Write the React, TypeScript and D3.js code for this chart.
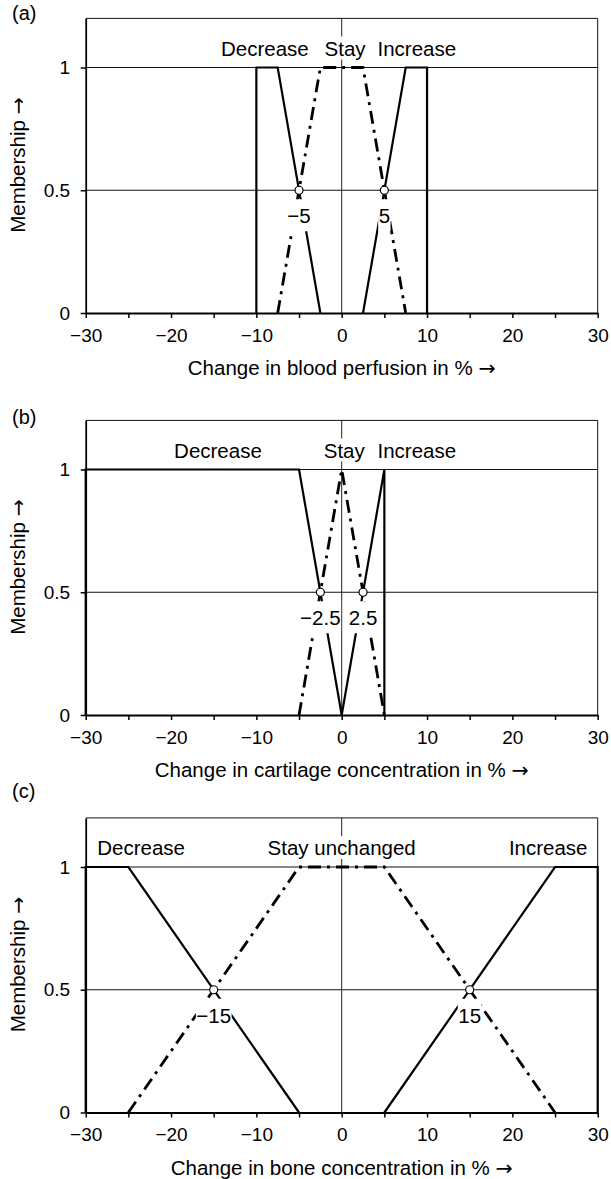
import { useEffect, useRef } from "react";
import * as d3 from "d3";

// axis ticks
const xTicks = [-30, -20, -10, 0, 10, 20, 30];
const xMinorTicks = [-25, -15, -5, 5, 15, 25];
const yTicks = [0, 0.5, 1];
const yTickLabels = ["0", "0.5", "1"];

// (a) blood perfusion
const aTitle = "Change in blood perfusion in %";
const aCategories = ["Decrease", "Stay", "Increase"];
const aDecrease: [number, number][] = [[-10, 0], [-10, 1], [-7.5, 1], [-2.5, 0]];
const aStay: [number, number][] = [[-7.5, 0], [-2.5, 1], [2.5, 1], [7.5, 0]];
const aIncrease: [number, number][] = [[2.5, 0], [7.5, 1], [10, 1], [10, 0]];
const aCross = [-5, 5];
const aCrossLabels = ["\u22125", "5"];

// (b) cartilage concentration
const bTitle = "Change in cartilage concentration in %";
const bCategories = ["Decrease", "Stay", "Increase"];
const bDecrease: [number, number][] = [[-30, 0], [-30, 1], [-5, 1], [0, 0]];
const bStay: [number, number][] = [[-5, 0], [0, 1], [5, 0]];
const bIncrease: [number, number][] = [[0, 0], [5, 1], [5, 0]];
const bCross = [-2.5, 2.5];
const bCrossLabels = ["\u22122.5", "2.5"];

// (c) bone concentration
const cTitle = "Change in bone concentration in %";
const cCategories = ["Decrease", "Stay unchanged", "Increase"];
const cDecrease: [number, number][] = [[-30, 0], [-30, 1], [-25, 1], [-5, 0]];
const cStay: [number, number][] = [[-25, 0], [-5, 1], [5, 1], [25, 0]];
const cIncrease: [number, number][] = [[5, 0], [25, 1], [30, 1], [30, 0]];
const cCross = [-15, 15];
const cCrossLabels = ["\u221215", "15"];

const panels = [
  { tag: "(a)", title: aTitle, cats: aCategories, dec: aDecrease, stay: aStay, inc: aIncrease, cross: aCross, crossLabels: aCrossLabels },
  { tag: "(b)", title: bTitle, cats: bCategories, dec: bDecrease, stay: bStay, inc: bIncrease, cross: bCross, crossLabels: bCrossLabels },
  { tag: "(c)", title: cTitle, cats: cCategories, dec: cDecrease, stay: cStay, inc: cIncrease, cross: cCross, crossLabels: cCrossLabels },
];

// layout
const W = 611;
const H = 1179;
const zeroY = [313, 715, 1112.5];
const tagY = [20, 424, 798];
const catX = [
  [-9, 0.4, 8.8],
  [-14.5, 0.3, 8.8],
  [-23.5, 0, 24.2],
];
const unit = 245.5;
const FONT = "'Liberation Sans', Arial, Helvetica, sans-serif";
const ARROW_FONT = "'DejaVu Sans', sans-serif";

function App() {
  const svgRef = useRef<SVGSVGElement>(null);

  useEffect(() => {
    if (!svgRef.current) return;
    const svg = d3.select(svgRef.current);
    svg.selectAll("*").remove();
    svg.append("rect").attr("width", W).attr("height", H).attr("fill", "#fff");

    const x = d3.scaleLinear().domain([-30, 30]).range([85.7, 597.7]);

    panels.forEach((p, i) => {
      const y0 = zeroY[i];
      const y = d3.scaleLinear().domain([0, 1.2]).range([y0, y0 - 1.2 * unit]);
      const g = svg.append("g").attr("font-family", FONT).attr("fill", "#000");

      // grid
      g.append("line")
        .attr("x1", x(0)).attr("x2", x(0))
        .attr("y1", y(0)).attr("y2", y(1.2))
        .attr("stroke", "#222").attr("stroke-width", 1);
      [0.5, 1].forEach((v) => {
        g.append("line")
          .attr("x1", x(-30)).attr("x2", x(30))
          .attr("y1", y(v)).attr("y2", y(v))
          .attr("stroke", "#111").attr("stroke-width", 1);
      });
      // frame top / right
      g.append("path")
        .attr("d", `M${x(-30)},${y(1.2)}H${x(30)}V${y(0)}`)
        .attr("fill", "none").attr("stroke", "#111").attr("stroke-width", 1);

      // x axis
      const xa = g.append("g").attr("transform", `translate(0,${y0})`)
        .call(
          d3.axisBottom(x)
            .tickValues([...xTicks, ...xMinorTicks])
            .tickSize(5)
            .tickSizeOuter(0)
            .tickPadding(10.5)
            .tickFormat((d) => (xTicks.includes(+d) ? String(d).replace("-", "\u2212") : ""))
        );
      xa.select(".domain").attr("stroke-width", 2);
      xa.selectAll(".tick line").attr("stroke-width", 1.5);
      xa.selectAll("text").attr("font-size", 19).attr("font-family", FONT);

      // y axis
      const ya = g.append("g").attr("transform", `translate(${x(-30)},0)`)
        .call(
          d3.axisLeft(y)
            .tickValues(yTicks)
            .tickSize(5)
            .tickSizeOuter(0)
            .tickPadding(10.5)
            .tickFormat((d, k) => yTickLabels[k])
        );
      ya.select(".domain").attr("stroke-width", 1.8);
      ya.selectAll(".tick line").attr("stroke-width", 1.5);
      ya.selectAll("text").attr("font-size", 19).attr("font-family", FONT);

      // curves
      const line = d3.line<[number, number]>().x((d) => x(d[0])).y((d) => y(d[1]));
      [p.dec, p.inc].forEach((s) => {
        g.append("path").attr("d", line(s)).attr("fill", "none")
          .attr("stroke", "#000").attr("stroke-width", 2.2).attr("stroke-linejoin", "miter");
      });
      g.append("path").attr("d", line(p.stay)).attr("fill", "none")
        .attr("stroke", "#000").attr("stroke-width", 2.8)
        .attr("stroke-dasharray", "13,6,3,6");

      // labels with white background
      const boxed = (tx: number, ty: number, txt: string, size: number, padT: number, padB: number, padX: number) => {
        const bg = g.append("rect").attr("fill", "#fff");
        const t = g.append("text").attr("x", tx).attr("y", ty)
          .attr("text-anchor", "middle").attr("font-size", size).text(txt);
        const bb = (t.node() as SVGTextElement).getBBox();
        bg.attr("x", bb.x - padX).attr("y", bb.y - padT)
          .attr("width", bb.width + 2 * padX).attr("height", bb.height + padT + padB);
      };

      p.cats.forEach((c, k) => boxed(x(catX[i][k]), y(1) - 12, c, 20.5, 0, 0, 1));
      p.cross.forEach((c, k) => boxed(x(c), y(0.5) + 33, p.crossLabels[k], 20.5, 5, 4, 0.5));

      // crossing markers
      g.selectAll("circle.cross").data(p.cross).join("circle")
        .attr("class", "cross")
        .attr("cx", (d) => x(d)).attr("cy", y(0.5)).attr("r", 4)
        .attr("fill", "#fff").attr("stroke", "#000").attr("stroke-width", 1.2);

      // titles
      const t = g.append("text").attr("x", x(0)).attr("y", y0 + 62)
        .attr("text-anchor", "middle").attr("font-size", 20.5);
      t.append("tspan").text(p.title + " ");
      t.append("tspan").attr("font-family", ARROW_FONT).text("\u2192");

      const m = g.append("text")
        .attr("transform", `translate(25,${y0 - 148}) rotate(-90)`)
        .attr("text-anchor", "middle").attr("font-size", 20.5);
      m.append("tspan").text("Membership ");
      m.append("tspan").attr("font-family", ARROW_FONT).text("\u2192");

      g.append("text").attr("x", 12).attr("y", tagY[i]).attr("font-size", 20).text(p.tag);
    });
  }, []);

  return (
    <svg
      ref={svgRef}
      width={W}
      height={H}
      style={{ position: "absolute", left: 0, top: 0 }}
    />
  );
}

export default App;
